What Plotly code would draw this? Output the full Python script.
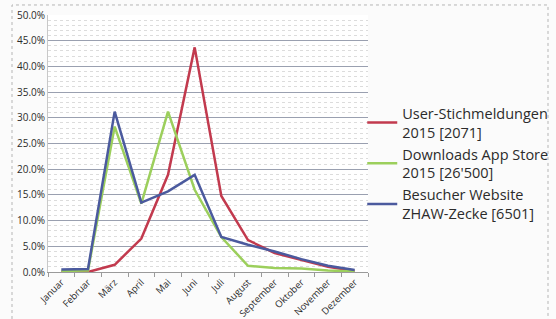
import plotly.graph_objects as go

months = ["Januar", "Februar", "März", "April", "Mai", "Juni", "Juli",
          "August", "September", "Oktober", "November", "Dezember"]

user_stich = [0.000, 0.000, 0.014, 0.065, 0.189, 0.437, 0.148, 0.062, 0.037, 0.023, 0.010, 0.002]
downloads = [0.002, 0.003, 0.283, 0.133, 0.312, 0.160, 0.068, 0.012, 0.008, 0.007, 0.003, 0.001]
besucher = [0.005, 0.006, 0.312, 0.135, 0.157, 0.189, 0.068, 0.053, 0.040, 0.025, 0.012, 0.004]

names = ["User-Stichmeldungen<br>2015 [2071]",
         "Downloads App Store<br>2015 [26'500]",
         "Besucher Website<br>ZHAW-Zecke [6501]"]
colors = ["#c23a4e", "#9ccf5c", "#4b5a9e"]
series = [user_stich, downloads, besucher]

fig = go.Figure()
for vals, name, col in zip(series, names, colors):
    fig.add_trace(go.Scatter(x=months, y=vals, mode="lines", name=name,
                             line=dict(color=col, width=2.5)))

fig.update_layout(
    width=556, height=319,
    margin=dict(l=48, r=188, t=15, b=47, autoexpand=False),
    paper_bgcolor="#fbfbfb",
    plot_bgcolor="#ffffff",
    font=dict(family="Open Sans, Liberation Sans, sans-serif", color="#2a2a2a"),
    showlegend=True,
    legend=dict(x=0.982, y=0.68, xanchor="left", yanchor="top",
                font=dict(size=14.5, color="#2b2b2b"),
                bgcolor="rgba(0,0,0,0)", tracegroupgap=7,
                itemwidth=30),
    shapes=[dict(type="rect", xref="paper", yref="paper",
                 x0=-0.1125, x1=1.5625, y0=-0.35, y1=1.039,
                 line=dict(color="#b5b5b5", width=1, dash="dot"))],
)

fig.update_xaxes(
    type="category",
    automargin=False,
    tickangle=-45,
    tickfont=dict(size=9.5, color="#2a2a2a"),
    ticks="outside", tickson="boundaries", ticklen=4, tickcolor="#9a9a9a",
    showgrid=False,
    showline=True, linecolor="#9a9a9a", linewidth=1,
    range=[-0.5, 11.5],
)

fig.update_yaxes(
    automargin=False,
    range=[0, 0.5],
    dtick=0.05,
    tickformat=".1%",
    tickfont=dict(size=10, color="#2a2a2a"),
    showgrid=True, gridcolor="#9aa0b0", gridwidth=1,
    minor=dict(dtick=0.01, showgrid=True, gridcolor="#dcdcdc", griddash="dot"),
    showline=True, linecolor="#c8c8c8",
    zeroline=False,
    ticks="",
)

fig.write_html("out.html",
               config={"displayModeBar": False},
               post_script="document.body.style.margin='0px';document.body.style.overflow='hidden';")
